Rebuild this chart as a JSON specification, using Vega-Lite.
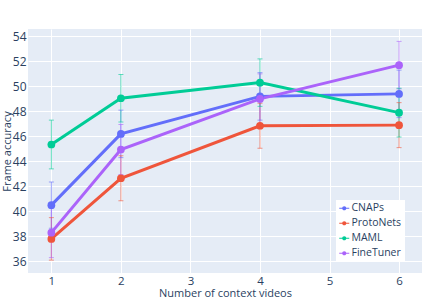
{
  "$schema": "https://vega.github.io/schema/vega-lite/v6.json",
  "width": 394,
  "height": 244,
  "autosize": {"type": "none"},
  "padding": {"left": 28, "top": 29, "right": 25, "bottom": 26},
  "background": "white",
  "config": {
    "font": "Open Sans",
    "view": {"fill": "#E5ECF6", "stroke": null},
    "axis": {
      "domain": false, "ticks": false, "gridColor": "white", "gridWidth": 1, "gridOpacity": 1,
      "labelColor": "#2a3f5f", "labelFontSize": 12, "labelFont": "Open Sans", "labelOverlap": false,
      "titleColor": "#2a3f5f", "titleFontSize": 11, "titleFontWeight": "normal", "titleFont": "Open Sans"
    },
    "legend": {"labelColor": "#2a3f5f", "labelFontSize": 10.5, "labelFont": "Open Sans"}
  },
  "data": {
    "values": [
      {"n": 1, "method": "CNAPs", "acc": 40.5, "lo": 38.65, "hi": 42.35},
      {"n": 2, "method": "CNAPs", "acc": 46.2, "lo": 44.3, "hi": 48.1},
      {"n": 4, "method": "CNAPs", "acc": 49.2, "lo": 47.3, "hi": 51.1},
      {"n": 6, "method": "CNAPs", "acc": 49.4, "lo": 47.5, "hi": 51.3},
      {"n": 1, "method": "ProtoNets", "acc": 37.8, "lo": 36.1, "hi": 39.5},
      {"n": 2, "method": "ProtoNets", "acc": 42.65, "lo": 40.85, "hi": 44.45},
      {"n": 4, "method": "ProtoNets", "acc": 46.85, "lo": 45.05, "hi": 48.65},
      {"n": 6, "method": "ProtoNets", "acc": 46.9, "lo": 45.1, "hi": 48.7},
      {"n": 1, "method": "MAML", "acc": 45.35, "lo": 43.4, "hi": 47.3},
      {"n": 2, "method": "MAML", "acc": 49.05, "lo": 47.15, "hi": 50.95},
      {"n": 4, "method": "MAML", "acc": 50.3, "lo": 48.4, "hi": 52.2},
      {"n": 6, "method": "MAML", "acc": 47.9, "lo": 45.95, "hi": 49.85},
      {"n": 1, "method": "FineTuner", "acc": 38.3, "lo": 36.3, "hi": 40.3},
      {"n": 2, "method": "FineTuner", "acc": 44.95, "lo": 42.95, "hi": 46.95},
      {"n": 4, "method": "FineTuner", "acc": 49.0, "lo": 47.0, "hi": 51.0},
      {"n": 6, "method": "FineTuner", "acc": 51.7, "lo": 49.8, "hi": 53.6}
    ]
  },
  "encoding": {
    "x": {
      "field": "n", "type": "quantitative",
      "scale": {"domain": [0.664, 6.33], "nice": false, "zero": false},
      "axis": {"values": [1, 2, 3, 4, 5, 6], "title": "Number of context videos", "labelPadding": 2, "titlePadding": 1, "labelFontSize": 11.5}
    },
    "color": {
      "field": "method", "type": "nominal",
      "scale": {"domain": ["CNAPs", "ProtoNets", "MAML", "FineTuner"], "range": ["#636efa", "#EF553B", "#00cc96", "#ab63fa"]},
      "legend": {
        "title": null, "orient": "none", "legendX": 308, "legendY": 171,
        "fillColor": "white", "padding": 3, "rowPadding": 4,
        "symbolType": "M-1,-0.12H1V0.12H-1Z M0.42,0A0.42,0.42,0,1,1,-0.42,0A0.42,0.42,0,1,1,0.42,0Z",
        "symbolSize": 100, "symbolStrokeWidth": 0, "labelOffset": 2, "symbolOpacity": 1,
        "encode": {"symbols": {"update": {"fill": {"scale": "color", "field": "value"}, "strokeWidth": {"value": 0}}}}
      }
    }
  },
  "layer": [
    {
      "mark": {"type": "rule", "strokeWidth": 1, "opacity": 0.6},
      "encoding": {
        "y": {"field": "lo", "type": "quantitative",
          "scale": {"domain": [35.07, 54.59], "nice": false, "zero": false},
          "axis": {"values": [36, 38, 40, 42, 44, 46, 48, 50, 52, 54], "title": "Frame accuracy", "labelPadding": 2, "titlePadding": 0, "labelOverlap": false}},
        "y2": {"field": "hi"}
      }
    },
    {
      "mark": {"type": "tick", "size": 5, "thickness": 1, "opacity": 0.6, "orient": "horizontal"},
      "encoding": {"y": {"field": "lo", "type": "quantitative",
          "scale": {"domain": [35.07, 54.59], "nice": false, "zero": false},
          "axis": {"values": [36, 38, 40, 42, 44, 46, 48, 50, 52, 54], "title": "Frame accuracy", "labelPadding": 2, "titlePadding": 0, "labelOverlap": false}}}
    },
    {
      "mark": {"type": "tick", "size": 5, "thickness": 1, "opacity": 0.6, "orient": "horizontal"},
      "encoding": {"y": {"field": "hi", "type": "quantitative",
          "scale": {"domain": [35.07, 54.59], "nice": false, "zero": false},
          "axis": {"values": [36, 38, 40, 42, 44, 46, 48, 50, 52, 54], "title": "Frame accuracy", "labelPadding": 2, "titlePadding": 0, "labelOverlap": false}}}
    },
    {
      "mark": {"type": "line", "strokeWidth": 3},
      "encoding": {
        "y": {"field": "acc", "type": "quantitative",
          "scale": {"domain": [35.07, 54.59], "nice": false, "zero": false},
          "axis": {"values": [36, 38, 40, 42, 44, 46, 48, 50, 52, 54], "title": "Frame accuracy", "labelPadding": 2, "titlePadding": 0, "labelOverlap": false}}
      }
    },
    {
      "mark": {"type": "point", "filled": true, "size": 60, "opacity": 1},
      "encoding": {"y": {"field": "acc", "type": "quantitative",
          "scale": {"domain": [35.07, 54.59], "nice": false, "zero": false},
          "axis": {"values": [36, 38, 40, 42, 44, 46, 48, 50, 52, 54], "title": "Frame accuracy", "labelPadding": 2, "titlePadding": 0, "labelOverlap": false}}}
    }
  ]
}
